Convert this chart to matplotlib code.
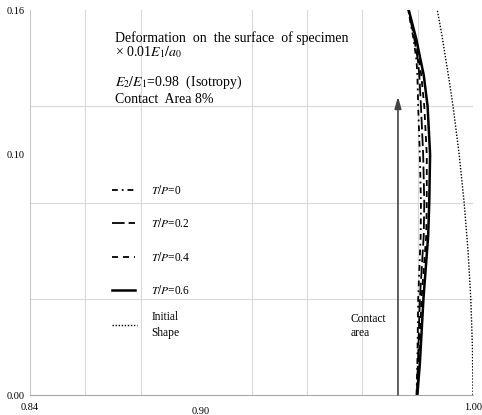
import matplotlib
matplotlib.use("Agg")
import matplotlib.pyplot as plt
import matplotlib.transforms as mtransforms
from matplotlib.ticker import MultipleLocator, FixedLocator

plt.rcParams['font.family'] = ['Liberation Serif', 'DejaVu Serif']
plt.rcParams['mathtext.fontset'] = 'stix'

# ---- data ----
y_def = [0.0, 0.013, 0.04, 0.066, 0.08, 0.10, 0.12, 0.133, 0.139, 0.148, 0.16]
x_tp00 = [0.9796, 0.9799, 0.9802, 0.9811, 0.9812, 0.9808, 0.9802, 0.9799, 0.9796, 0.9785, 0.9766]
x_tp02 = [0.9797, 0.9801, 0.9808, 0.9822, 0.9824, 0.9820, 0.9812, 0.9806, 0.9801, 0.9788, 0.9767]
x_tp04 = [0.9798, 0.9804, 0.9814, 0.9831, 0.9833, 0.9833, 0.9824, 0.9813, 0.9805, 0.9791, 0.9767]
x_tp06 = [0.9799, 0.9808, 0.9821, 0.9838, 0.9842, 0.9845, 0.9836, 0.9822, 0.9811, 0.9795, 0.9768]

y_init = [0.0, 0.02, 0.04, 0.06, 0.08, 0.10, 0.12, 0.13, 0.14, 0.15, 0.16]
x_init = [1.0000, 0.9998, 0.9992, 0.9982, 0.9968, 0.9950, 0.9928, 0.9915, 0.9901, 0.9887, 0.9871]

contact_x = 0.9729
contact_top = 0.124

x_ticks = [0.84, 0.90, 1.00]
x_ticklabels = ['0.84', '0.90', '1.00']
y_ticks = [0.00, 0.10, 0.16]
y_ticklabels = ['0.00', '0.10', '0.16']

series_labels = ['$T/P$=0', '$T/P$=0.2', '$T/P$=0.4', '$T/P$=0.6']

# ---- figure ----
fig = plt.figure(figsize=(4.82, 4.15), dpi=100)
ax = fig.add_axes([30/482, 20/415, 443/482, 385/415])
ax.set_xlim(0.84, 1.00)
ax.set_ylim(0.0, 0.16)

ax.xaxis.set_major_locator(FixedLocator(x_ticks))
ax.set_xticklabels(x_ticklabels)
ax.yaxis.set_major_locator(FixedLocator(y_ticks))
ax.set_yticklabels(y_ticklabels)
ax.xaxis.set_minor_locator(MultipleLocator(0.02))
ax.yaxis.set_minor_locator(MultipleLocator(0.04))
ax.grid(which='minor', color='#d9d9d9', lw=0.8)
ax.grid(which='major', visible=False)
ax.tick_params(which='both', length=0)
ax.tick_params(axis='x', labelsize=7.5, pad=6)
ax.tick_params(axis='y', labelsize=7.5, pad=4)
ax.set_axisbelow(True)
for s in ['top', 'right']:
    ax.spines[s].set_visible(False)
ax.spines['left'].set_color('#c8c8c8')
ax.spines['bottom'].set_color('#a8a8a8')

# small offset of the middle x label as in the reference
mid = ax.get_xticklabels()[1]
mid.set_transform(mid.get_transform() + mtransforms.ScaledTranslation(5/100, -4/100, fig.dpi_scale_trans))

l0, = ax.plot(x_tp00, y_def, color='black', lw=1.3, ls=(0, (3.2, 2.2, 1, 2.2)), label=series_labels[0])
l1, = ax.plot(x_tp02, y_def, color='black', lw=1.3, ls=(0, (7, 2.2)), label=series_labels[1])
l2, = ax.plot(x_tp04, y_def, color='black', lw=1.3, ls=(0, (3.3, 2.8)), label=series_labels[2])
l3, = ax.plot(x_tp06, y_def, color='black', lw=1.8, ls='-', label=series_labels[3])
li, = ax.plot(x_init, y_init, color='black', lw=1.0, ls=(0, (1, 1.2)), label='Initial\nShape')

ax.annotate('', xy=(contact_x, contact_top), xytext=(contact_x, 0.0),
            arrowprops=dict(arrowstyle='-|>,head_width=0.2,head_length=0.7',
                            color='#444444', lw=1.2,
                            mutation_scale=10, shrinkA=0, shrinkB=0))
ax.text(0.9559, 0.0287, 'Contact\narea', fontsize=8.3, ha='left', va='center',
        linespacing=1.3)

ax.text(0.8707, 0.1484, 'Deformation  on  the surface  of specimen', fontsize=10,
        ha='left', va='center')
ax.text(0.8707, 0.1424, '× 0.01$E_1/a_0$', fontsize=10, ha='left', va='center')
ax.text(0.8707, 0.1300, '$E_2/E_1$=0.98  (Isotropy)', fontsize=10, ha='left', va='center')
ax.text(0.8707, 0.1228, 'Contact  Area 8%', fontsize=10, ha='left', va='center')

leg1 = ax.legend(handles=[l0, l1, l2, l3], loc='upper left',
                 bbox_to_anchor=((112-30)/443, (395-184)/385),
                 frameon=False, fontsize=8.3, borderpad=0, borderaxespad=0,
                 handlelength=2.0, handletextpad=1.4, labelspacing=1.77)
for t in leg1.get_texts()[1:]:
    t.set_bbox(dict(facecolor='white', edgecolor='none', pad=1.5))
ax.add_artist(leg1)
leg2 = ax.legend(handles=[li], loc='upper left',
                 bbox_to_anchor=((112-30)/443, (395-311)/385),
                 frameon=False, fontsize=8.3, borderpad=0, borderaxespad=0,
                 handlelength=2.2, handletextpad=1.2)
for t in leg2.get_texts():
    t.set_linespacing(1.45)

fig.savefig('out.png', dpi=100)
